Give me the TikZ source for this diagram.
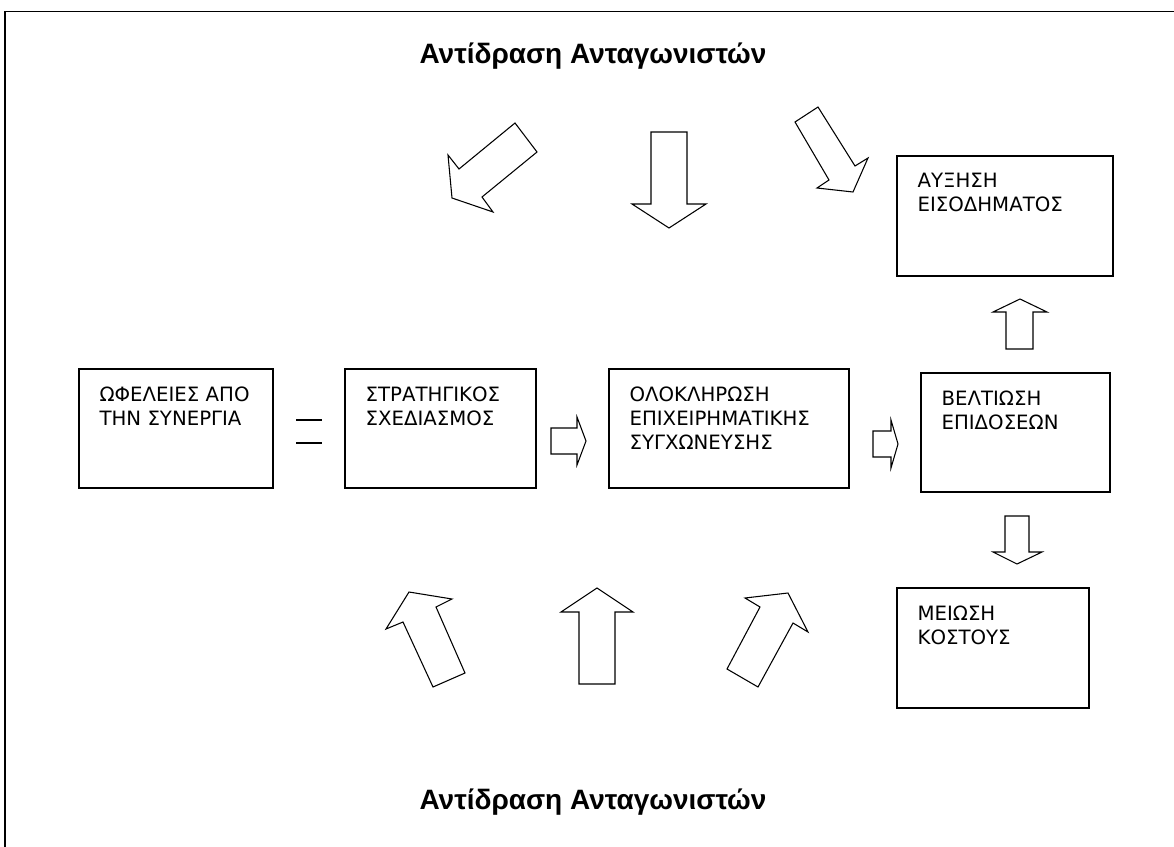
\documentclass[tikz,border=0pt]{standalone}
\usepackage{fontspec}
\setmainfont{DejaVu Sans}
\newfontfamily\titlefont{Liberation Sans}
\usepackage{tikz}
\usetikzlibrary{positioning}

\begin{document}
\begin{tikzpicture}[x=0.75pt,y=-0.75pt,
    box/.style={rectangle,draw,line width=1pt,inner sep=0pt},
    boxsize/.style 2 args={minimum width=#1*0.75pt,minimum height=#2*0.75pt},
    boxtext/.style={anchor=north west,inner sep=0pt,align=left,
        font={\fontsize{14.8}{18}\selectfont}},
    heading/.style={font={\titlefont\bfseries\fontsize{21}{25}\selectfont}},
    blockarr/.style={draw,line width=0.8pt,line join=miter,fill=white}]

    \clip (0,0) rectangle (1174,846);
    \draw[line width=1.3pt] (5,11.5) rectangle (1200,870);

    \node[heading] (rivalstop) at (593,56) {Αντίδραση Ανταγωνιστών};
    \node[heading] (rivalsbottom) at (593,802) {Αντίδραση Ανταγωνιστών};

    % the boxes
    \node[box,boxsize={194}{119}] (synergy) at (176,428.5) {};
    \node[box,boxsize={191}{119}] (strategic) at (440.5,428.5) {};
    \node[box,boxsize={240}{119}] (integration) at (729,428.5) {};
    \node[box,boxsize={189}{119}] (performance) at (1015.5,432.5) {};
    \node[box,boxsize={216}{120}] (income) at (1005,216) {};
    \node[box,boxsize={192}{120}] (cost) at (993,648) {};

    \node[boxtext] (synergytext) at ([shift={(21,18)}]synergy.north west) {ΩΦΕΛΕΙΕΣ ΑΠΟ\\ΤΗΝ ΣΥΝΕΡΓΙΑ};
    \node[boxtext] (strategictext) at ([shift={(21,18)}]strategic.north west) {ΣΤΡΑΤΗΓΙΚΟΣ\\ΣΧΕΔΙΑΣΜΟΣ};
    \node[boxtext] (integrationtext) at ([shift={(21,18)}]integration.north west) {ΟΛΟΚΛΗΡΩΣΗ\\ΕΠΙΧΕΙΡΗΜΑΤΙΚΗΣ\\ΣΥΓΧΩΝΕΥΣΗΣ};
    \node[boxtext] (performancetext) at ([shift={(21,18)}]performance.north west) {ΒΕΛΤΙΩΣΗ\\ΕΠΙΔΟΣΕΩΝ};
    \node[boxtext] (incometext) at ([shift={(21,18)}]income.north west) {ΑΥΞΗΣΗ\\ΕΙΣΟΔΗΜΑΤΟΣ};
    \node[boxtext] (costtext) at ([shift={(21,18)}]cost.north west) {ΜΕΙΩΣΗ\\ΚΟΣΤΟΥΣ};

    % equals sign
    \draw[line width=1pt] (296,420) -- (322,420);
    \draw[line width=1pt] (296,443) -- (322,443);

    % small arrows
    \draw[blockarr] (551,428) -- (577,428) -- (577,417) -- (586,441) -- (577,465) -- (577,454) -- (551,454) -- cycle;
    \draw[blockarr] (873,431) -- (891,431) -- (891,420) -- (898,444) -- (891,468) -- (891,457) -- (873,457) -- cycle;
    \draw[blockarr] (1006,349) -- (1006,312) -- (993,312) -- (1020,299) -- (1047,312) -- (1033,312) -- (1033,349) -- cycle;
    \draw[blockarr] (1005,516) -- (1029,516) -- (1029,552) -- (1042,552) -- (1017,564) -- (993,552) -- (1005,552) -- cycle;

    % competitors, top
    \draw[blockarr] (515,123) -- (537,152) -- (482,197) -- (493,212) -- (452,198) -- (448,155) -- (459,169) -- cycle;
    \draw[blockarr] (651,132) -- (687,132) -- (687,204) -- (706,204) -- (669,228) -- (632,204) -- (651,204) -- cycle;
    \draw[blockarr] (795,122) -- (818,107) -- (855,166) -- (868,158) -- (853,192) -- (817,188) -- (829,180) -- cycle;

    % competitors, bottom
    \draw[blockarr] (409,592) -- (452,599) -- (436,607) -- (465,673) -- (433,687) -- (403,622) -- (386,629) -- cycle;
    \draw[blockarr] (597,588) -- (633,612) -- (615,612) -- (615,684) -- (579,684) -- (579,612) -- (561,612) -- cycle;
    \draw[blockarr] (788,593) -- (808,632) -- (793,623) -- (758,687) -- (727,669) -- (760,607) -- (745,598) -- cycle;

\end{tikzpicture}
\end{document}
